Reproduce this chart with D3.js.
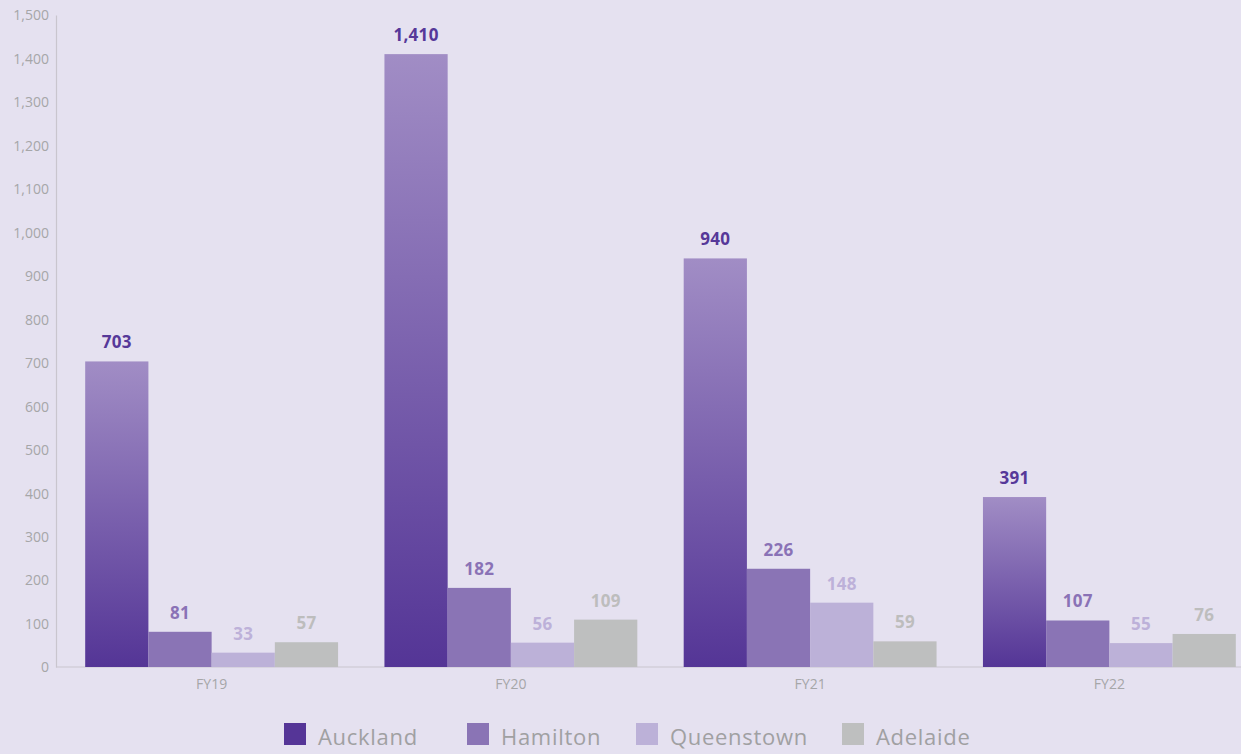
<!DOCTYPE html>
<html>
<head>
<meta charset="utf-8">
<script src="https://cdn.jsdelivr.net/npm/d3@7"></script>
<style>
  html, body { margin: 0; padding: 0; background: #e5e1f0; }
  svg { display: block; font-family: "Open Sans", "Noto Sans", sans-serif; }
</style>
</head>
<body>
<svg id="chart" width="1241" height="754"></svg>
<script>
// Data
const years = ["FY19", "FY20", "FY21", "FY22"];
const cities = ["Auckland", "Hamilton", "Queenstown", "Adelaide"];
const auckland = [703, 1410, 940, 391];
const hamilton = [81, 182, 226, 107];
const queenstown = [33, 56, 148, 55];
const adelaide = [57, 109, 59, 76];
const yTicks = [0, 100, 200, 300, 400, 500, 600, 700, 800, 900, 1000, 1100, 1200, 1300, 1400, 1500];

const seriesValues = [auckland, hamilton, queenstown, adelaide];
const barColors = ["url(#aucklandGrad)", "#8a74b5", "#bcb1d8", "#bebfbf"];
const labelColors = ["#563899", "#8a72b6", "#bdb1d9", "#bdbdbd"];
const legendColors = ["#553597", "#8a74b5", "#bcb1d8", "#bebfbf"];

const FONT = '"Open Sans", "Noto Sans", sans-serif';
const svg = d3.select("#chart");
const W = 1241, H = 754;
const x0Left = 56, yZero = 667, yTop = 15;

const defs = svg.append("defs");
const grad = defs.append("linearGradient")
  .attr("id", "aucklandGrad")
  .attr("x1", 0).attr("y1", 0).attr("x2", 0).attr("y2", 1);
grad.append("stop").attr("offset", "0%").attr("stop-color", "#a18dc5");
grad.append("stop").attr("offset", "100%").attr("stop-color", "#543596");

const y = d3.scaleLinear().domain([0, 1500]).range([yZero, yTop]);

const x0 = d3.scaleBand().domain(years).range([62, 1259]).paddingInner(0.155).paddingOuter(0.0775);
const x1 = d3.scaleBand().domain(cities).range([0, x0.bandwidth()]);

// y axis
const yAxis = d3.axisLeft(y).tickValues(yTicks).tickSize(0).tickPadding(8)
  .tickFormat(d3.format(","));
const gy = svg.append("g").attr("transform", `translate(${x0Left},0)`).call(yAxis)
  .attr("font-family", FONT);
gy.select(".domain").attr("stroke", "#c9c5ce").attr("stroke-width", 1.2);
gy.selectAll("text").attr("fill", "#a6a6a8").attr("font-size", 14).attr("dy", "0.35em")
  .attr("x", -7);

// x axis baseline
svg.append("line")
  .attr("x1", x0Left).attr("x2", W)
  .attr("y1", yZero).attr("y2", yZero)
  .attr("stroke", "#c9c5ce").attr("stroke-width", 1.2);

// category labels
const xAxis = d3.axisBottom(x0).tickSize(0).tickPadding(12);
const gx = svg.append("g").attr("transform", `translate(0,${yZero})`).call(xAxis)
  .attr("font-family", FONT);
gx.select(".domain").remove();
gx.selectAll("text").attr("fill", "#a6a6a8").attr("font-size", 14);

// bars
const groups = svg.append("g").selectAll("g")
  .data(years)
  .join("g")
  .attr("transform", d => `translate(${x0(d)},0)`);

groups.selectAll("rect")
  .data((d, i) => cities.map((c, j) => ({ city: c, j, v: seriesValues[j][i] })))
  .join("rect")
  .attr("x", d => x1(d.city))
  .attr("width", x1.bandwidth())
  .attr("y", d => y(d.v))
  .attr("height", d => yZero - y(d.v))
  .attr("fill", d => barColors[d.j]);

groups.selectAll("text.val")
  .data((d, i) => cities.map((c, j) => ({ city: c, j, v: seriesValues[j][i] })))
  .join("text")
  .attr("class", "val")
  .attr("x", d => x1(d.city) + x1.bandwidth() / 2)
  .attr("y", d => y(d.v) - 13)
  .attr("text-anchor", "middle")
  .attr("font-size", 17)
  .attr("font-weight", 700)
  .attr("letter-spacing", 0.3)
  .attr("fill", d => labelColors[d.j])
  .text(d => d3.format(",")(d.v));

// legend
const legendX = [284, 467, 636, 842];
const legend = svg.append("g").selectAll("g")
  .data(cities)
  .join("g")
  .attr("transform", (d, i) => `translate(${legendX[i]},723)`);
legend.append("rect")
  .attr("width", 22).attr("height", 22)
  .attr("fill", (d, i) => legendColors[i]);
legend.append("text")
  .attr("x", 34).attr("y", 22)
  .attr("font-size", 22)
  .attr("letter-spacing", 0.7)
  .attr("fill", "#a0a0a2")
  .text(d => d);
</script>
</body>
</html>
